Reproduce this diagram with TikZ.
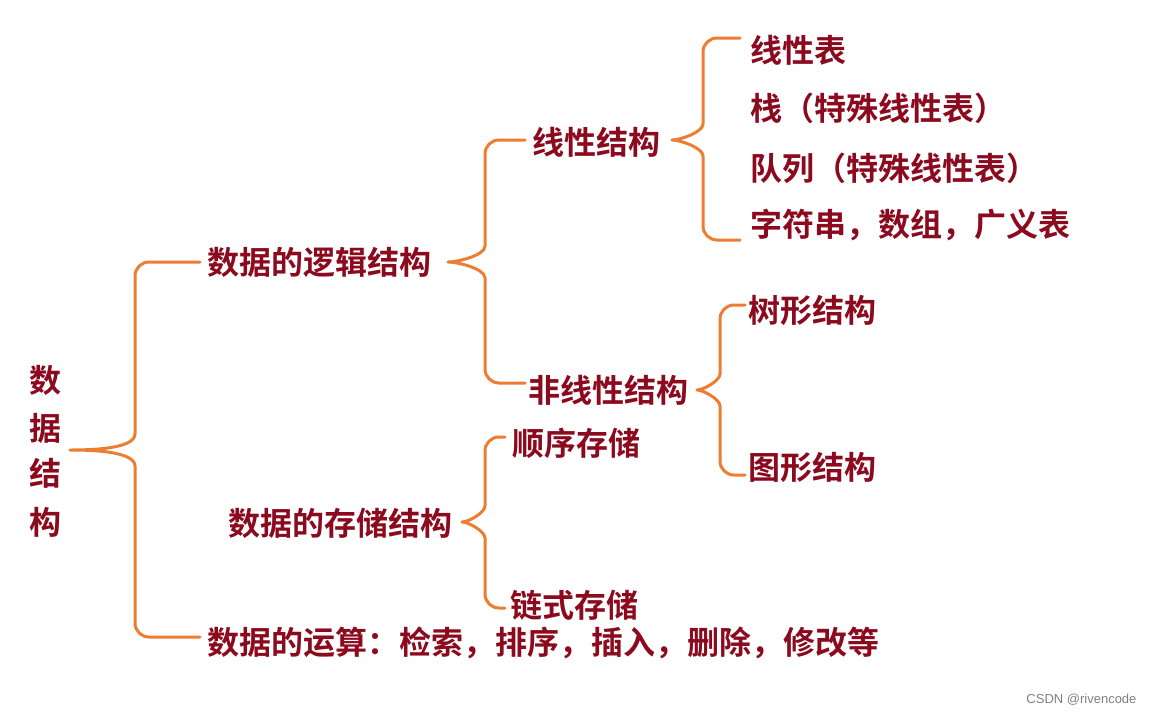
\documentclass[tikz,border=0pt]{standalone}
\usepackage{fontspec}
\newfontfamily\cjk{Noto Sans CJK SC}[BoldFont={Noto Sans CJK SC Bold}]
\setsansfont{Liberation Sans}
\definecolor{txtred}{HTML}{8B0A1E}
\definecolor{braceor}{HTML}{ED7D31}
\tikzset{
  lbl/.style={anchor=west,inner sep=0pt,text=txtred,font=\cjk\bfseries\fontsize{32}{34}\selectfont},
  brace/.style={draw=braceor,line width=3pt,line cap=round,line join=round}
}
% brace: x, top y, middle y, bottom y, tip x, end x
\newcommand{\curlybrace}[6]{%
  \draw[brace] (#6,#2) -- (#1+14,#2) to[out=180,in=90] (#1,#2+14)
    -- (#1,#3-16) to[out=-90,in=0,looseness=0.6] (#5,#3)
    to[out=0,in=90,looseness=0.6] (#1,#3+16) -- (#1,#4-14)
    to[out=-90,in=180] (#1+14,#4) -- (#6,#4);}
\begin{document}
\begin{tikzpicture}[x=1pt,y=-1pt]
\useasboundingbox (0,0) rectangle (1154,715);
% braces
\curlybrace{135}{262}{450}{637}{70}{200}
\curlybrace{485}{140}{262}{383}{448}{525}
\curlybrace{703}{38}{140}{240}{672}{740}
\curlybrace{720}{305}{390}{475}{697}{745}
\curlybrace{485}{437}{522}{608}{462}{505}
% root
\node[lbl,anchor=center] (r1) at (45,380) {数};
\node[lbl,anchor=center] (r2) at (45,428) {据};
\node[lbl,anchor=center] (r3) at (45,473) {结};
\node[lbl,anchor=center] (r4) at (45,522) {构};
% level 1
\node[lbl] (logic) at (207,262) {数据的逻辑结构};
\node[lbl] (store) at (228,523) {数据的存储结构};
\node[lbl] (ops) at (207,643) {数据的运算：检索，排序，插入，删除，修改等};
% level 2
\node[lbl] (lin) at (532,142) {线性结构};
\node[lbl] (nonlin) at (528,390) {非线性结构};
\node[lbl] (seq) at (512,443) {顺序存储};
\node[lbl] (chain) at (510,605) {链式存储};
% level 3
\node[lbl] (list) at (750,50) {线性表};
\node[lbl] (stack) at (750,108) {栈（特殊线性表）};
\node[lbl] (queue) at (750,168) {队列（特殊线性表）};
\node[lbl] (str) at (750,225) {字符串，数组，广义表};
\node[lbl] (tree) at (748,310) {树形结构};
\node[lbl] (graph) at (748,467) {图形结构};
% watermark
\node[anchor=east,text=gray,font=\sffamily\fontsize{13}{14}\selectfont] (wm) at (1140,700) {CSDN @rivencode};
\end{tikzpicture}
\end{document}
